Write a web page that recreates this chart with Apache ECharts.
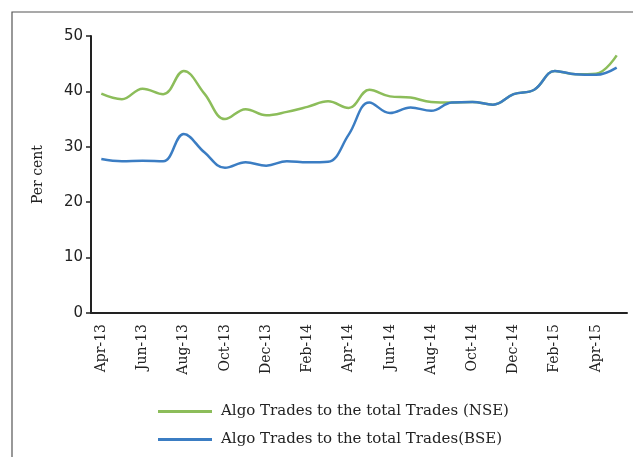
<!DOCTYPE html>
<html><head><meta charset="utf-8">
<script src="https://cdn.jsdelivr.net/npm/echarts@6/dist/echarts.min.js"></script>
<style>html,body{margin:0;padding:0;background:#fff}#c{width:633px;height:457px}</style>
</head><body><div id="c"></div>
<script>
const months = ['Apr-13','May-13','Jun-13','Jul-13','Aug-13','Sep-13','Oct-13','Nov-13','Dec-13','Jan-14','Feb-14','Mar-14','Apr-14','May-14','Jun-14','Jul-14','Aug-14','Sep-14','Oct-14','Nov-14','Dec-14','Jan-15','Feb-15','Mar-15','Apr-15','May-15'];
const nse = [39.6,38.6,40.5,39.5,43.7,39.6,35.0,36.8,35.7,36.3,37.2,38.2,37.0,40.3,39.1,38.9,38.1,38.0,38.1,37.6,39.5,40.3,43.7,43.1,43.2,46.5];
const bse = [27.8,27.4,27.5,27.4,32.3,29.0,26.2,27.2,26.6,27.4,27.2,27.3,32.2,38.0,36.1,37.1,36.5,38.0,38.1,37.6,39.5,40.3,43.7,43.1,43.0,44.3];
const yTicks = [0,10,20,30,40,50];
const names = ['Algo Trades to the total Trades (NSE)','Algo Trades to the total Trades(BSE)'];

const chart = echarts.init(document.getElementById('c'));
chart.setOption({
  animation:false,
  graphic:[{type:'rect',shape:{x:12,y:12,width:700,height:600},style:{fill:'none',stroke:'#555',lineWidth:1.2},silent:true}],
  grid:{left:91,right:6,top:36,bottom:144},
  legend:{
    orient:'vertical',left:153,top:399,itemWidth:54,itemHeight:3,itemGap:13,
    icon:'rect',
    textStyle:{fontFamily:'DejaVu Serif',fontSize:15,color:'#222',padding:[0,0,0,4]},
    data:names
  },
  xAxis:{
    type:'category',data:months,boundaryGap:true,
    axisLine:{lineStyle:{color:'#222',width:2}},
    axisTick:{interval:1,length:6,lineStyle:{color:'#222',width:1.5}},
    axisLabel:{interval:1,rotate:90,margin:11,fontFamily:'DejaVu Serif',fontSize:14,color:'#222'}
  },
  yAxis:{
    type:'value',min:yTicks[0],max:yTicks[yTicks.length-1],interval:10,
    name:'Per cent',nameLocation:'middle',nameGap:46,nameRotate:90,
    nameTextStyle:{fontFamily:'DejaVu Serif',fontSize:14,color:'#222'},
    axisLine:{show:true,lineStyle:{color:'#222',width:2}},
    axisTick:{show:true,length:5,lineStyle:{color:'#222',width:1.5}},
    splitLine:{show:false},
    axisLabel:{margin:8,fontFamily:'DejaVu Sans',fontSize:15,color:'#222'}
  },
  series:[
    {name:names[0],type:'line',data:nse,smooth:0.4,symbol:'none',lineStyle:{color:'#8cbd5a',width:2.5},itemStyle:{color:'#8cbd5a'}},
    {name:names[1],type:'line',data:bse,smooth:0.4,symbol:'none',lineStyle:{color:'#3b7dc3',width:2.5},itemStyle:{color:'#3b7dc3'}}
  ]
});
</script></body></html>
